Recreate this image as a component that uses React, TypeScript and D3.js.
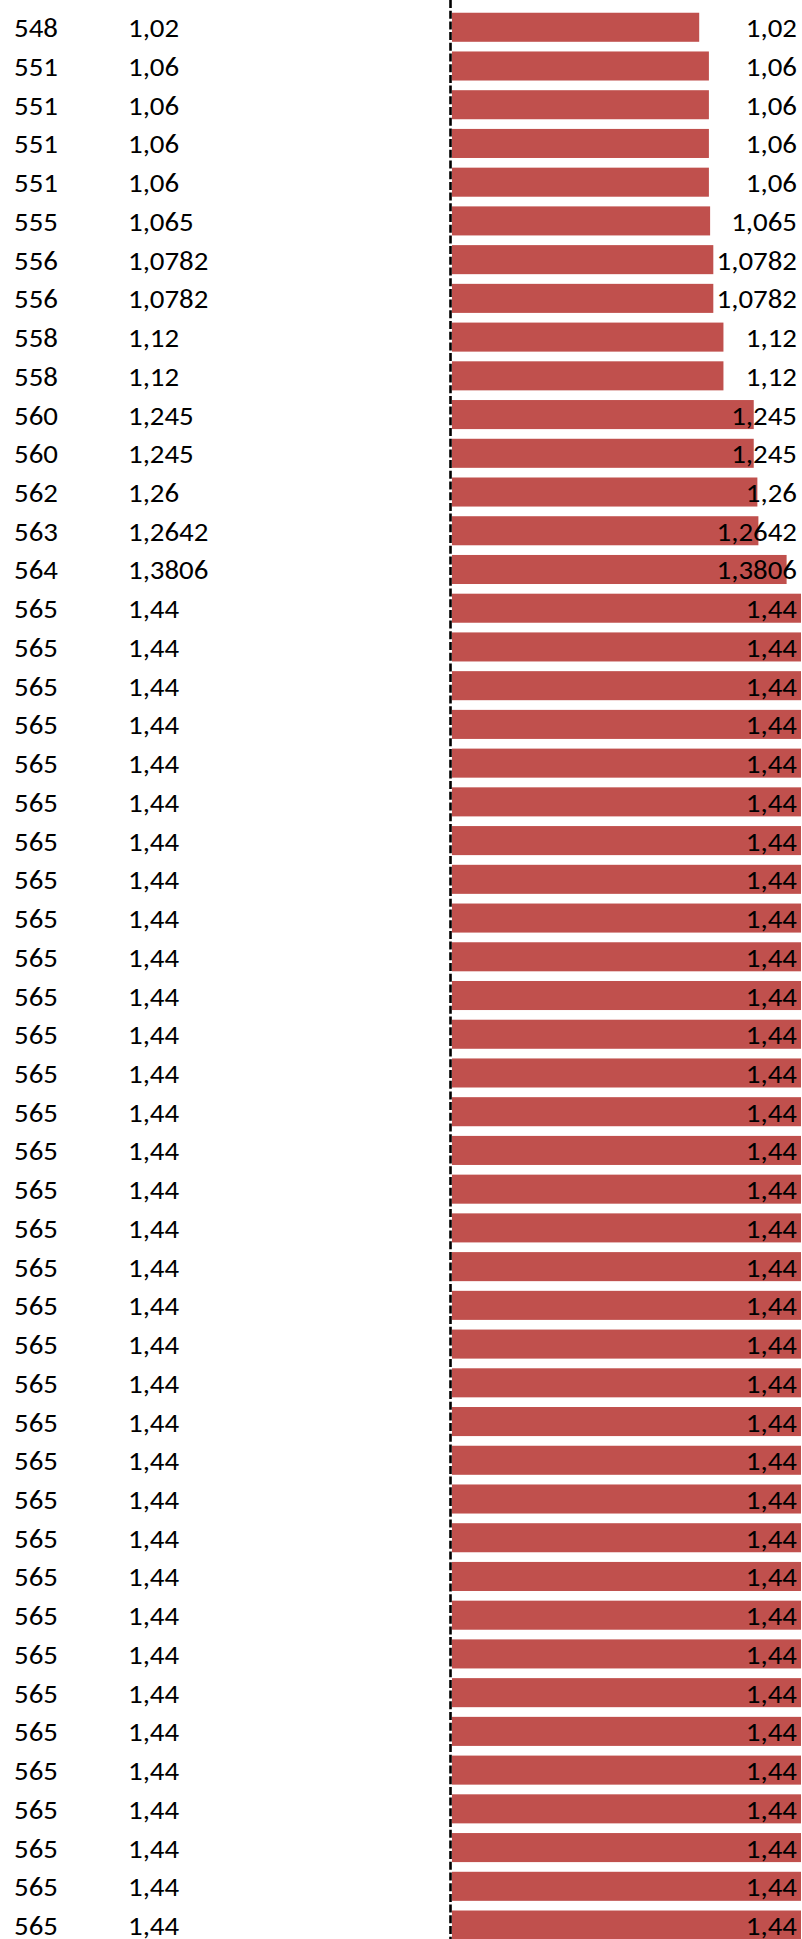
import React from "react";
import * as d3 from "d3";

const ids: number[] = [
  548, 551, 551, 551, 551, 555, 556, 556, 558, 558, 560, 560, 562, 563, 564,
  565, 565, 565, 565, 565, 565, 565, 565, 565, 565,
  565, 565, 565, 565, 565, 565, 565, 565, 565, 565,
  565, 565, 565, 565, 565, 565, 565, 565, 565, 565,
  565, 565, 565, 565, 565,
];

const values: number[] = [
  1.02, 1.06, 1.06, 1.06, 1.06, 1.065, 1.0782, 1.0782, 1.12, 1.12, 1.245, 1.245, 1.26, 1.2642, 1.3806,
  1.44, 1.44, 1.44, 1.44, 1.44, 1.44, 1.44, 1.44, 1.44, 1.44,
  1.44, 1.44, 1.44, 1.44, 1.44, 1.44, 1.44, 1.44, 1.44, 1.44,
  1.44, 1.44, 1.44, 1.44, 1.44, 1.44, 1.44, 1.44, 1.44, 1.44,
  1.44, 1.44, 1.44, 1.44, 1.44,
];

const W = 802;
const H = 1939;
const FONT = "Carlito, Calibri, Lato, 'Open Sans', sans-serif";
const FS = 27;
const SX = 1.07;

const fmt = (v: number) => String(v).replace(".", ",");

export default function App() {
  const idx = values.map((_, i) => i);
  const y = d3
    .scaleBand<number>()
    .domain(idx)
    .range([7.9, 7.9 + 50 * 38.73])
    .paddingInner(0.25)
    .paddingOuter(0.125);
  const x = d3.scaleLinear().domain([0, 1.44]).range([452, 801]);
  const bw = y.bandwidth();

  return (
    <svg
      width={W}
      height={H}
      style={{ position: "absolute", left: 0, top: 0, background: "#fff" }}
      fontFamily={FONT}
      fontSize={FS}
    >
      <rect x={0} y={0} width={W} height={H} fill="#fff" />
      {values.map((v, i) => {
        const y0 = y(i)!;
        const cy = y0 + bw / 2;
        return (
          <g key={i}>
            <rect x={x(0)} y={y0} width={x(v) - x(0)} height={bw} fill="#C0504D" />
            <text transform={`translate(14,${cy + 10}) scale(${SX},1)`} fill="#000">
              {ids[i]}
            </text>
            <text transform={`translate(128,${cy + 10}) scale(${SX},1)`} fill="#000">
              {fmt(v)}
            </text>
            <text
              transform={`translate(797,${cy + 10}) scale(${SX},1)`}
              textAnchor="end"
              fill="#000"
            >
              {fmt(v)}
            </text>
          </g>
        );
      })}
      <line
        x1={450.5}
        x2={450.5}
        y1={0}
        y2={H}
        stroke="#000"
        strokeWidth={2.6}
        strokeDasharray="8,2.7"
      />
    </svg>
  );
}
